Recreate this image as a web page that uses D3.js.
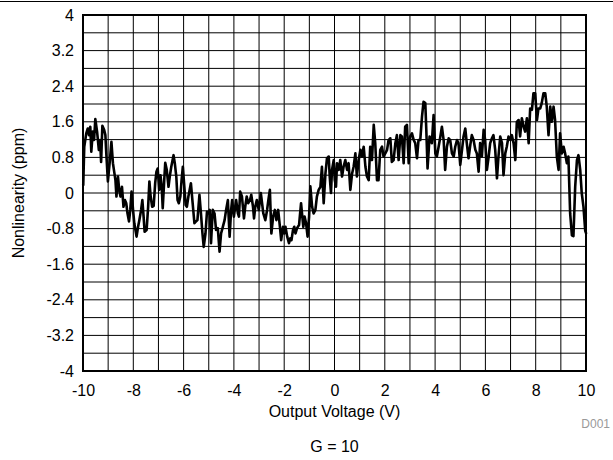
<!DOCTYPE html>
<html>
<head>
<meta charset="utf-8">
<script src="https://cdn.jsdelivr.net/npm/d3@7/dist/d3.min.js"></script>
<style>
  html, body { margin: 0; padding: 0; background: #fff; }
  svg { display: block; }
  text { font-family: "Liberation Sans", Arial, sans-serif; fill: #000; }
</style>
</head>
<body>
<svg id="chart" width="613" height="460"></svg>
<script>
// Output voltage sweep (V)
const voltage = [
  -9.99,-9.95,-9.87,-9.81,-9.76,-9.71,-9.67,-9.61,-9.56,-9.51,-9.44,-9.37,-9.32,-9.28,-9.23,-9.16,-9.11,-9.07,-9.01,-8.93,
  -8.87,-8.81,-8.76,-8.71,-8.67,-8.61,-8.56,-8.51,-8.45,-8.39,-8.33,-8.28,-8.23,-8.17,-8.12,-8.07,-8.01,-7.96,-7.87,-7.81,
  -7.76,-7.69,-7.64,-7.59,-7.55,-7.47,-7.41,-7.36,-7.31,-7.25,-7.19,-7.13,-7.08,-7.03,-6.97,-6.92,-6.87,-6.83,-6.77,-6.73,
  -6.67,-6.60,-6.55,-6.49,-6.40,-6.35,-6.29,-6.24,-6.19,-6.13,-6.08,-6.03,-5.97,-5.92,-5.87,-5.81,-5.76,-5.71,-5.64,-5.57,
  -5.51,-5.45,-5.37,-5.31,-5.25,-5.20,-5.13,-5.07,-5.01,-4.96,-4.91,-4.84,-4.77,-4.71,-4.64,-4.57,-4.51,-4.44,-4.37,-4.31,
  -4.24,-4.17,-4.11,-4.07,-4.00,-3.95,-3.91,-3.84,-3.80,-3.75,-3.68,-3.60,-3.55,-3.49,-3.43,-3.36,-3.31,-3.24,-3.20,-3.15,
  -3.09,-3.01,-2.93,-2.88,-2.83,-2.75,-2.68,-2.63,-2.57,-2.51,-2.44,-2.37,-2.31,-2.24,-2.17,-2.12,-2.05,-2.00,-1.95,-1.88,
  -1.81,-1.76,-1.71,-1.65,-1.60,-1.55,-1.49,-1.41,-1.33,-1.28,-1.24,-1.19,-1.13,-1.07,-1.01,-0.96,-0.89,-0.83,-0.76,-0.70,
  -0.63,-0.56,-0.50,-0.43,-0.36,-0.30,-0.23,-0.19,-0.14,-0.10,-0.03,0.01,0.06,0.10,0.17,0.23,0.30,0.36,0.43,0.50,
  0.56,0.63,0.70,0.76,0.83,0.89,0.96,1.03,1.09,1.16,1.23,1.29,1.36,1.42,1.49,1.56,1.62,1.69,1.75,1.82,
  1.89,1.95,2.02,2.09,2.15,2.22,2.28,2.35,2.42,2.48,2.55,2.62,2.68,2.75,2.81,2.88,2.95,3.01,3.08,3.15,
  3.21,3.28,3.34,3.41,3.48,3.54,3.61,3.65,3.70,3.78,3.87,3.94,4.01,4.07,4.14,4.21,4.27,4.34,4.40,4.47,
  4.54,4.60,4.67,4.74,4.80,4.87,4.93,5.00,5.07,5.13,5.20,5.26,5.33,5.40,5.46,5.53,5.60,5.66,5.73,5.79,
  5.86,5.93,5.99,6.06,6.13,6.19,6.26,6.32,6.39,6.46,6.52,6.59,6.66,6.72,6.79,6.85,6.92,6.99,7.05,7.12,
  7.19,7.25,7.32,7.38,7.45,7.52,7.58,7.65,7.72,7.78,7.85,7.91,7.98,8.05,8.11,8.18,8.24,8.31,8.38,8.44,
  8.51,8.58,8.64,8.71,8.77,8.84,8.91,8.97,9.04,9.11,9.17,9.24,9.30,9.37,9.44,9.50,9.57,9.64,9.70,9.77,
  9.83,9.90,9.97,10.0
];

// Measured nonlinearity (ppm)
const nonlinearity = [
  0.18,1.04,1.34,1.45,1.30,1.49,0.93,1.38,1.19,1.66,1.38,0.97,1.19,0.70,1.51,1.42,1.30,0.85,0.26,0.74,
  1.15,0.67,0.48,0.29,-0.08,0.37,0.07,-0.08,0.14,-0.31,-0.16,-0.23,-0.46,-0.64,-0.38,0.03,-0.38,-0.68,-0.98,-0.76,
  -0.61,-0.38,-0.16,-0.53,-0.87,-0.83,-0.31,0.26,-0.08,-0.31,-0.29,0.22,0.48,0.55,0.07,0.40,0.14,-0.34,0.29,0.68,
  0.52,0.14,0.37,0.59,0.85,0.67,0.37,-0.16,-0.23,-0.08,0.29,0.59,0.14,-0.27,-0.31,-0.08,0.07,0.22,-0.23,-0.68,
  -0.64,-0.61,-0.04,-0.46,-0.91,-1.21,-0.91,-0.42,-0.46,-0.38,-1.13,-0.38,-0.46,-0.83,-0.79,-1.32,-0.91,-0.76,-0.61,-0.38,
  -0.16,-0.98,-0.38,-0.16,-0.53,-0.31,-0.16,-0.46,-0.53,0.03,-0.08,-0.57,-0.31,-0.08,-0.23,-0.16,-0.04,-0.31,-0.57,-0.31,
  -0.16,-0.38,0.00,-0.23,-0.46,-0.61,-0.38,-0.16,0.07,-0.91,-0.53,-0.38,-0.61,-0.38,-0.76,-1.06,-0.76,-0.91,-0.76,-0.98,
  -1.13,-1.02,-1.06,-0.83,-0.76,-0.91,-0.79,-0.72,-0.23,-0.53,-0.76,-0.53,-0.68,-0.98,-0.53,0.15,-0.31,-0.46,-0.38,-0.08,
  0.07,0.14,0.59,-0.23,0.44,0.78,0.82,0.37,0.00,0.52,0.74,0.29,0.14,0.67,0.52,0.74,0.37,0.59,0.74,0.52,
  0.67,0.07,0.44,0.59,0.89,0.37,0.74,0.97,0.82,1.04,0.59,0.37,0.29,1.04,0.74,1.53,1.12,0.29,0.29,0.97,
  1.04,0.82,0.89,0.97,1.19,1.23,0.70,0.74,1.12,1.30,0.74,1.30,1.27,0.67,1.49,1.53,0.67,1.27,1.34,1.19,
  1.12,0.78,1.19,1.19,1.72,2.05,2.02,1.42,0.55,1.27,1.12,1.75,0.89,0.82,1.04,1.27,1.49,1.19,0.52,1.04,
  1.23,1.19,0.89,0.82,1.04,1.19,1.12,0.63,0.97,1.27,1.45,1.12,0.78,1.08,1.30,1.19,0.97,0.89,0.48,1.12,
  0.82,1.42,1.19,0.52,0.82,1.12,1.23,1.30,0.97,0.33,0.82,1.27,1.12,0.40,0.89,1.04,1.27,1.19,1.30,1.12,
  0.74,1.60,1.64,1.27,1.68,1.49,1.38,1.68,1.12,1.90,1.87,2.24,2.24,1.64,1.90,1.90,2.02,2.24,2.24,1.94,
  1.30,1.94,1.60,1.94,1.64,0.82,0.52,1.34,0.89,1.04,0.89,0.67,0.82,-0.46,-0.95,-0.97,0.14,0.74,0.85,0.52,
  0.00,-0.31,-0.85,-0.90
];

const xTicks = [-10, -8, -6, -4, -2, 0, 2, 4, 6, 8, 10];
const xTickLabels = ["-10", "-8", "-6", "-4", "-2", "0", "2", "4", "6", "8", "10"];
const yTicks = [-4, -3.2, -2.4, -1.6, -0.8, 0, 0.8, 1.6, 2.4, 3.2, 4];
const yTickLabels = ["-4", "-3.2", "-2.4", "-1.6", "-0.8", "0", "0.8", "1.6", "2.4", "3.2", "4"];
const xGridStep = 1;
const yGridStep = 0.4;

const svg = d3.select("#chart");
const W = 613, H = 460;
const plot = { left: 83, right: 586, top: 15, bottom: 371 };

const x = d3.scaleLinear().domain([-10, 10]).range([plot.left, plot.right]);
const y = d3.scaleLinear().domain([-4, 4]).range([plot.bottom, plot.top]);

// thin rule across the top of the figure
svg.append("line")
  .attr("x1", 0).attr("x2", W).attr("y1", 1.5).attr("y2", 1.5)
  .attr("stroke", "#000").attr("stroke-width", 1);

// grid
const g = svg.append("g");
const xGrid = d3.range(-10 + xGridStep, 10, xGridStep);
const yGrid = d3.range(-4 + yGridStep, 4 - 1e-9, yGridStep);
g.selectAll("line.vx").data(xGrid).join("line")
  .attr("x1", d => x(d)).attr("x2", d => x(d))
  .attr("y1", plot.top).attr("y2", plot.bottom)
  .attr("stroke", "#000").attr("stroke-width", 1);
g.selectAll("line.hy").data(yGrid).join("line")
  .attr("x1", plot.left).attr("x2", plot.right)
  .attr("y1", d => y(d)).attr("y2", d => y(d))
  .attr("stroke", "#000").attr("stroke-width", 1);

// data trace
const pts = voltage.map((v, i) => [v, nonlinearity[i]]);
const line = d3.line().x(d => x(d[0])).y(d => y(d[1]));
g.append("path").datum(pts)
  .attr("d", line)
  .attr("fill", "none")
  .attr("stroke", "#000")
  .attr("stroke-width", 2.6)
  .attr("stroke-linejoin", "round")
  .attr("stroke-linecap", "round");

// frame
svg.append("rect")
  .attr("x", plot.left).attr("y", plot.top)
  .attr("width", plot.right - plot.left).attr("height", plot.bottom - plot.top)
  .attr("fill", "none").attr("stroke", "#000").attr("stroke-width", 2);

// axes (labels only; frame and grid drawn above)
const xAxis = d3.axisBottom(x).tickValues(xTicks)
  .tickFormat((d, i) => xTickLabels[i]).tickSize(0).tickPadding(0);
svg.append("g").attr("transform", `translate(0,${plot.bottom + 14})`).call(xAxis)
  .call(a => a.select(".domain").remove())
  .call(a => a.selectAll("text").attr("font-size", 16).attr("font-family", "Liberation Sans, Arial, sans-serif").attr("fill", "#000"));

const yAxis = d3.axisLeft(y).tickValues(yTicks)
  .tickFormat((d, i) => yTickLabels[i]).tickSize(0).tickPadding(9);
svg.append("g").attr("transform", `translate(${plot.left},0)`).call(yAxis)
  .call(a => a.select(".domain").remove())
  .call(a => a.selectAll("text").attr("font-size", 16).attr("font-family", "Liberation Sans, Arial, sans-serif").attr("fill", "#000"));

// titles
svg.append("text")
  .attr("x", (plot.left + plot.right) / 2).attr("y", 417)
  .attr("text-anchor", "middle").attr("font-size", 16)
  .text("Output Voltage (V)");

svg.append("text")
  .attr("transform", `translate(24,${(plot.top + plot.bottom) / 2}) rotate(-90)`)
  .attr("text-anchor", "middle").attr("font-size", 16)
  .text("Nonlinearity (ppm)");

svg.append("text")
  .attr("x", 610).attr("y", 428)
  .attr("text-anchor", "end").attr("font-size", 12)
  .style("fill", "#999")
  .text("D001");

svg.append("text")
  .attr("x", (plot.left + plot.right) / 2).attr("y", 452)
  .attr("text-anchor", "middle").attr("font-size", 16)
  .text("G = 10");
</script>
</body>
</html>
